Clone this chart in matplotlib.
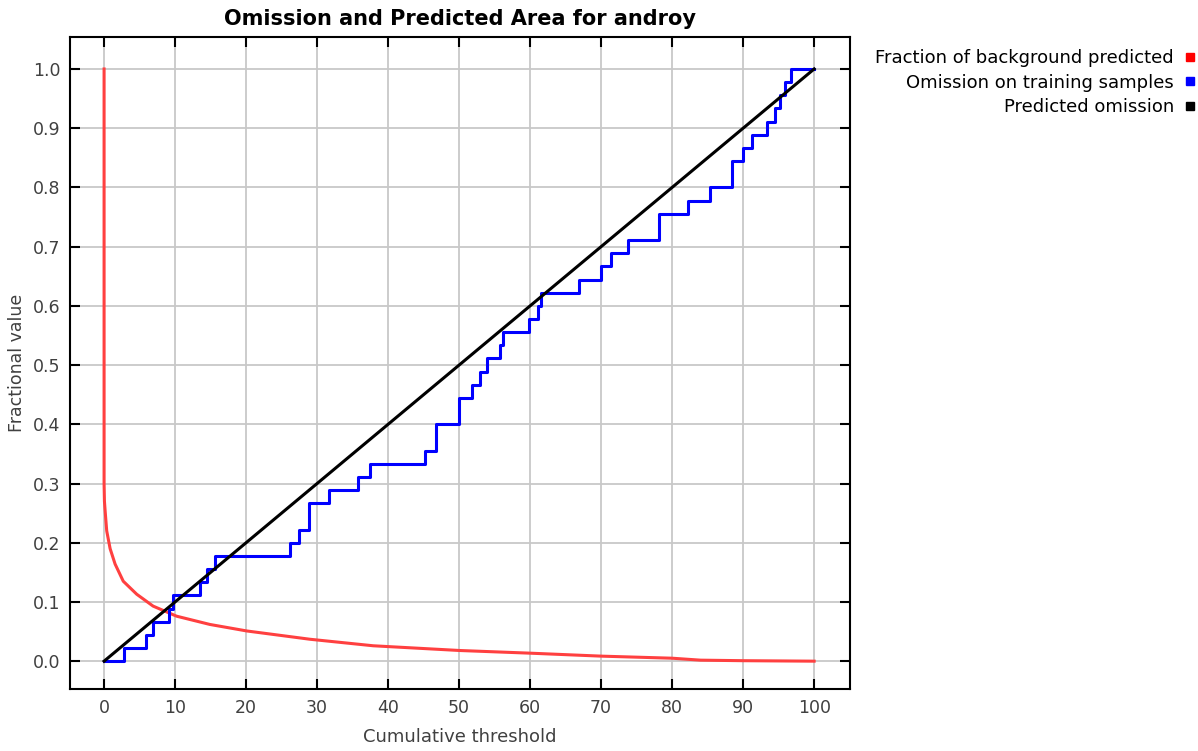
import numpy as np
import matplotlib.pyplot as plt
from matplotlib.lines import Line2D

# ---- datos ----
# umbral acumulado donde la omision de entrenamiento sube al nivel k/45
n_train = 45
omis_x = [0, 2.8, 5.9, 6.9, 9.2, 9.7, 13.5, 14.5, 15.6, 26.2, 27.4, 28.8,
          31.7, 35.7, 37.4, 45.2, 46.8, 50.0, 51.8, 52.9, 53.9, 55.8, 56.2,
          59.8, 61.1, 61.5, 66.9, 70.0, 71.4, 73.8, 78.1, 82.3, 85.4, 88.4,
          90.0, 91.2, 93.4, 94.5, 95.2, 95.9, 96.7, 100]
omis_k = [0, 1, 2, 3, 4, 5, 6, 7, 8, 9, 10, 12,
          13, 14, 15, 16, 18, 20, 21, 22, 23, 24, 25,
          26, 27, 28, 29, 30, 31, 32, 34, 35, 36, 38,
          39, 40, 41, 42, 43, 44, 45, 45]

# fraccion del fondo predicha
bg_x = [0, 0, 0.05, 0.14, 0.37, 0.85, 1.55, 2.7, 4.6, 6.9, 10.2, 14.9, 20.1,
        29.0, 37.9, 50.1, 60, 70, 80, 84, 90, 100]
bg_y = [1.0, 0.30, 0.27, 0.255, 0.22, 0.19, 0.164, 0.135, 0.113, 0.093, 0.076,
        0.062, 0.051, 0.037, 0.026, 0.018, 0.0135, 0.0085, 0.005, 0.0017,
        0.0008, 0.0]

pred_x = [0, 100]
pred_y = [0, 1]

omis_y = np.array(omis_k) / n_train

fig = plt.figure(figsize=(11.98, 7.51), dpi=100)
ax = fig.add_axes([70/1198, 1 - 689/751, 780/1198, 652/751])

ax.plot(bg_x, bg_y, color='#ff4040', linewidth=2.2)
ax.step(omis_x, omis_y, where='post', color='#0000ff', linewidth=2.2)
ax.plot(pred_x, pred_y, color='black', linewidth=2.2)

ax.set_xlim(-4.8, 105.05)
ax.set_ylim(-0.047, 1.054)
ax.set_xticks(np.arange(0, 101, 10))
ax.set_yticks(np.arange(0, 1.01, 0.1))
ax.set_yticklabels([f'{v:.1f}' for v in np.arange(0, 1.01, 0.1)])
ax.grid(True, color='#c8c8c8', linewidth=1.3)
ax.set_axisbelow(True)
ax.tick_params(direction='in', length=7, width=1.5, top=True, right=True,
               labelsize=12.5, labelcolor='#404040', pad=7)
for s in ax.spines.values():
    s.set_linewidth(1.5)

ax.set_title('Omission and Predicted Area for androy', fontsize=15,
             fontweight='bold', pad=9)
ax.set_xlabel('Cumulative threshold', fontsize=13, color='#404040', labelpad=8)
ax.set_ylabel('Fractional value', fontsize=12.5, color='#404040', labelpad=5)

handles = [Line2D([], [], linestyle='none', marker='s', markersize=6,
                  color=c) for c in ['#ff0000', '#0000ff', 'black']]
labels = ['Fraction of background predicted', 'Omission on training samples',
          'Predicted omission']
fig.legend(handles, labels, loc='upper right', bbox_to_anchor=(1.004, 1 - 42/751),
           frameon=False, markerfirst=False, fontsize=13, handlelength=0.6,
           handletextpad=0.6, labelspacing=0.35, borderaxespad=0)

fig.savefig('out.png', dpi=100)
